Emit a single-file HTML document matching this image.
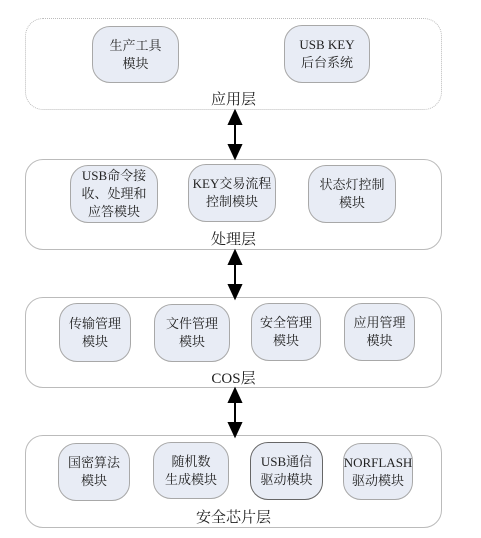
<!DOCTYPE html><html><head><meta charset="utf-8"><style>
body{margin:0;width:481px;height:538px;background:#fff;position:relative;overflow:hidden;font-family:"Liberation Serif","Noto Serif CJK SC",serif;color:#222}
.L{position:absolute;left:25px;width:417px;border:1px solid #bbb;border-radius:18px;box-sizing:border-box}
.b{position:absolute;background:#e8ecf5;border:1px solid #a8a8a8;border-radius:18px;box-sizing:border-box;display:flex;align-items:center;justify-content:center;text-align:center;font-size:13px;line-height:18px}
.t{position:absolute;left:25px;width:417px;text-align:center;font-size:15px}
</style></head><body>
<div class="L" style="top:18px;height:92px;border-style:dotted"></div>
<div class="b" style="left:92px;top:26px;width:87px;height:57px">生产工具<br>模块</div>
<div class="b" style="left:284px;top:25px;width:86px;height:58px">USB KEY<br>后台系统</div>
<div class="t" style="top:88px">应用层</div>

<div class="L" style="top:159px;height:91px"></div>
<div class="b" style="left:70px;top:165px;width:88px;height:58px">USB命令接<br>收、处理和<br>应答模块</div>
<div class="b" style="left:188px;top:164px;width:88px;height:58px">KEY交易流程<br>控制模块</div>
<div class="b" style="left:308px;top:165px;width:88px;height:58px">状态灯控制<br>模块</div>
<div class="t" style="top:228px">处理层</div>

<div class="L" style="top:297px;height:91px"></div>
<div class="b" style="left:59px;top:303px;width:72px;height:59px">传输管理<br>模块</div>
<div class="b" style="left:154px;top:304px;width:76px;height:58px">文件管理<br>模块</div>
<div class="b" style="left:251px;top:303px;width:70px;height:58px">安全管理<br>模块</div>
<div class="b" style="left:344px;top:303px;width:71px;height:58px">应用管理<br>模块</div>
<div class="t" style="top:367px">COS层</div>

<div class="L" style="top:435px;height:93px"></div>
<div class="b" style="left:58px;top:443px;width:72px;height:58px">国密算法<br>模块</div>
<div class="b" style="left:153px;top:442px;width:76px;height:57px">随机数<br>生成模块</div>
<div class="b" style="left:250px;top:442px;width:73px;height:58px;border-color:#666">USB通信<br>驱动模块</div>
<div class="b" style="left:343px;top:443px;width:70px;height:57px">NORFLASH<br>驱动模块</div>
<div class="t" style="top:506px">安全芯片层</div>

<svg width="481" height="538" style="position:absolute;left:0;top:0">
<g stroke="#000" stroke-width="2" fill="#000">
<line x1="235" y1="122" x2="235" y2="147"/><polygon points="229,124 241,124 235,111"/><polygon points="229,145 241,145 235,158"/>
<line x1="235" y1="262" x2="235" y2="287"/><polygon points="229,264 241,264 235,251"/><polygon points="229,285 241,285 235,298"/>
<line x1="235" y1="400" x2="235" y2="425"/><polygon points="229,402 241,402 235,389"/><polygon points="229,423 241,423 235,436"/>
</g></svg>
</body></html>
